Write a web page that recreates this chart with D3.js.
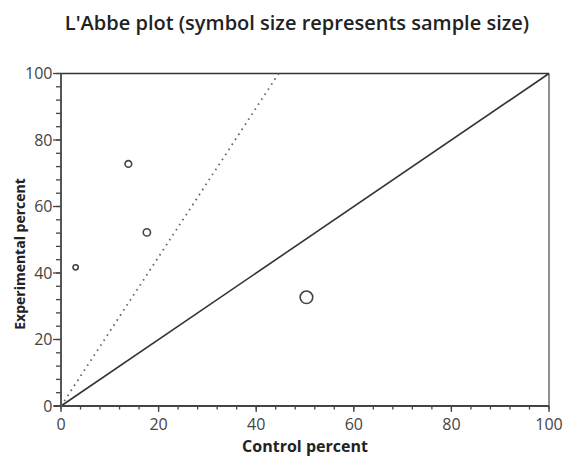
<!DOCTYPE html>
<html><head><meta charset="utf-8">
<script src="https://cdn.jsdelivr.net/npm/d3@7"></script>
<style>body{margin:0;background:#fff}</style>
</head><body>
<svg id="c" width="569" height="458"></svg>
<script>
const controlPct = [3, 13.8, 17.6, 50.3];
const experimentalPct = [41.7, 72.8, 52.2, 32.7];
const sampleSize = [20, 32, 38, 115];
const xTickLabels = [0, 20, 40, 60, 80, 100];
const yTickLabels = [0, 20, 40, 60, 80, 100];
const equalityLine = [[0, 0], [100, 100]];
const pooledLine = [[0, 0], [44.6, 100]];

const svg = d3.select("#c");
const x = d3.scaleLinear().domain([0, 100]).range([61, 549]);
const y = d3.scaleLinear().domain([0, 100]).range([406, 73.5]);
const r = d3.scaleSqrt().domain([0, 115]).range([0, 6.3]);
const font = "'Open Sans', sans-serif";

svg.append("line").attr("x1", x(0)).attr("x2", x(100)).attr("y1", y(100)).attr("y2", y(100))
  .attr("stroke", "#333").attr("stroke-width", 1.6);
svg.append("line").attr("x1", x(100)).attr("x2", x(100)).attr("y1", y(100)).attr("y2", y(0))
  .attr("stroke", "#555").attr("stroke-width", 1.3);

const minor = d3.range(0, 101, 4);
const xAxis = svg.append("g").attr("transform", `translate(0,${y(0)})`);
xAxis.selectAll("line.mn").data(minor).join("line")
  .attr("x1", d => x(d)).attr("x2", d => x(d)).attr("y1", 0).attr("y2", 3.5)
  .attr("stroke", "#444").attr("stroke-width", 1.3);
xAxis.selectAll("line.mj").data(xTickLabels).join("line")
  .attr("x1", d => x(d)).attr("x2", d => x(d)).attr("y1", 0).attr("y2", 6)
  .attr("stroke", "#444").attr("stroke-width", 1.3);
xAxis.append("line").attr("x1", x(0) - 7).attr("x2", x(100)).attr("stroke", "#444").attr("stroke-width", 1.8);
xAxis.selectAll("text").data(xTickLabels).join("text")
  .attr("x", d => x(d)).attr("y", 24).attr("text-anchor", "middle")
  .attr("font-family", font).attr("font-size", 16).attr("font-weight", 400).attr("fill", "#444")
  .text(d => d);

const yAxis = svg.append("g").attr("transform", `translate(${x(0)},0)`);
yAxis.selectAll("line.mn").data(minor).join("line")
  .attr("y1", d => y(d)).attr("y2", d => y(d)).attr("x1", 0).attr("x2", -5)
  .attr("stroke", "#444").attr("stroke-width", 1.3);
yAxis.selectAll("line.mj").data(yTickLabels).join("line")
  .attr("y1", d => y(d)).attr("y2", d => y(d)).attr("x1", 0).attr("x2", -8)
  .attr("stroke", "#444").attr("stroke-width", 1.3);
yAxis.append("line").attr("y1", y(0)).attr("y2", y(100)).attr("stroke", "#444").attr("stroke-width", 1.8);
yAxis.selectAll("text").data(yTickLabels).join("text")
  .attr("x", -8.5).attr("y", d => y(d) + 5.5).attr("text-anchor", "end")
  .attr("font-family", font).attr("font-size", 16).attr("font-weight", 400).attr("fill", "#444")
  .text(d => d);

const line = d3.line().x(d => x(d[0])).y(d => y(d[1]));
svg.append("path").attr("d", line(equalityLine)).attr("fill", "none")
  .attr("stroke", "#333").attr("stroke-width", 1.6);
svg.append("path").attr("d", line(pooledLine)).attr("fill", "none")
  .attr("stroke", "#666").attr("stroke-width", 1.8).attr("stroke-dasharray", "1.6,4.4");

svg.selectAll("circle").data(controlPct).join("circle")
  .attr("cx", d => x(d)).attr("cy", (d, i) => y(experimentalPct[i]))
  .attr("r", (d, i) => r(sampleSize[i]))
  .attr("fill", "none").attr("stroke", "#444").attr("stroke-width", 1.6);

svg.append("text").attr("x", 297).attr("y", 30).attr("text-anchor", "middle")
  .attr("font-family", font).attr("font-size", 20).attr("font-weight", 600).attr("fill", "#222")
  .text("L'Abbe plot (symbol size represents sample size)");
svg.append("text").attr("x", 305).attr("y", 452).attr("text-anchor", "middle")
  .attr("font-family", font).attr("font-size", 16).attr("font-weight", 700).attr("fill", "#222")
  .text("Control percent");
svg.append("text").attr("transform", "translate(25,254) rotate(-90)").attr("text-anchor", "middle")
  .attr("font-family", font).attr("font-size", 14).attr("font-weight", 700).attr("fill", "#222")
  .text("Experimental percent");
</script>
</body></html>
